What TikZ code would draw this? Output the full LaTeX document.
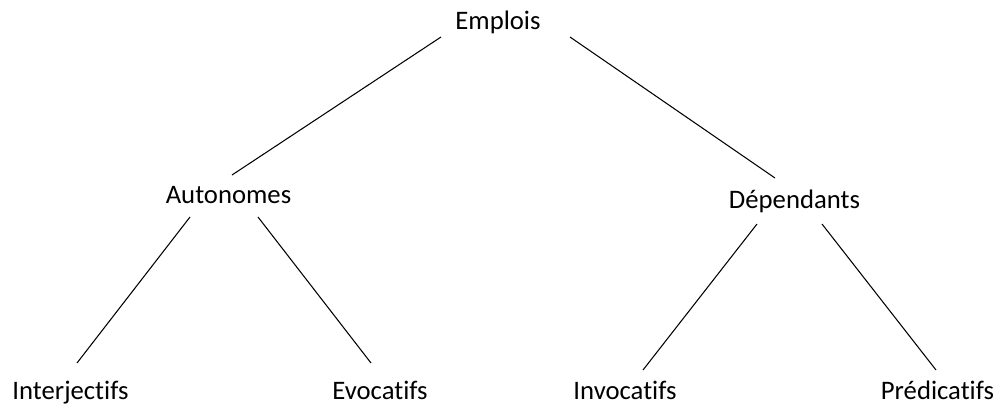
\documentclass[tikz,border=0pt]{standalone}
\usepackage{fontspec}
\setmainfont{Carlito}[Ligatures=NoCommon]
\usepackage{tikz}
\usetikzlibrary{positioning}

\begin{document}
\begin{tikzpicture}[
  x=0.02cm, y=-0.02cm,
  term/.style={anchor=base, inner sep=0pt, font=\fontsize{15.2}{18}\selectfont},
  branch/.style={draw, line width=0.6pt},
]
\useasboundingbox (0,0) rectangle (1001,407);

%% --- Root ---
\node[term] (emplois) at (498,29) {Emplois};

%% --- Middle level ---
\node[term] (auto) at (228.5,203) {Autonomes};
\node[term] (dep)  at (794.5,208) {Dépendants};

%% --- Leaves ---
\node[term] (interj) at (70.5,399) {Interjectifs};
\node[term] (evoc)   at (380,399)  {Evocatifs};
\node[term] (invoc)  at (625,399)  {Invocatifs};
\node[term] (pred)   at (937.5,399) {Prédicatifs};

%% --- Branch ends ---
\coordinate (e-l) at (441,37);   \coordinate (a-t) at (232,175);
\coordinate (e-r) at (570,37);   \coordinate (d-t) at (775,178);
\coordinate (a-l) at (190,217);  \coordinate (i-t) at (77,363);
\coordinate (a-r) at (258,217);  \coordinate (v-t) at (371,363);
\coordinate (d-l) at (757,224);  \coordinate (n-t) at (643,370);
\coordinate (d-r) at (822,224);  \coordinate (p-t) at (936,370);

\draw[branch] (e-l) -- (a-t);
\draw[branch] (e-r) -- (d-t);
\draw[branch] (a-l) -- (i-t);
\draw[branch] (a-r) -- (v-t);
\draw[branch] (d-l) -- (n-t);
\draw[branch] (d-r) -- (p-t);

\end{tikzpicture}
\end{document}
